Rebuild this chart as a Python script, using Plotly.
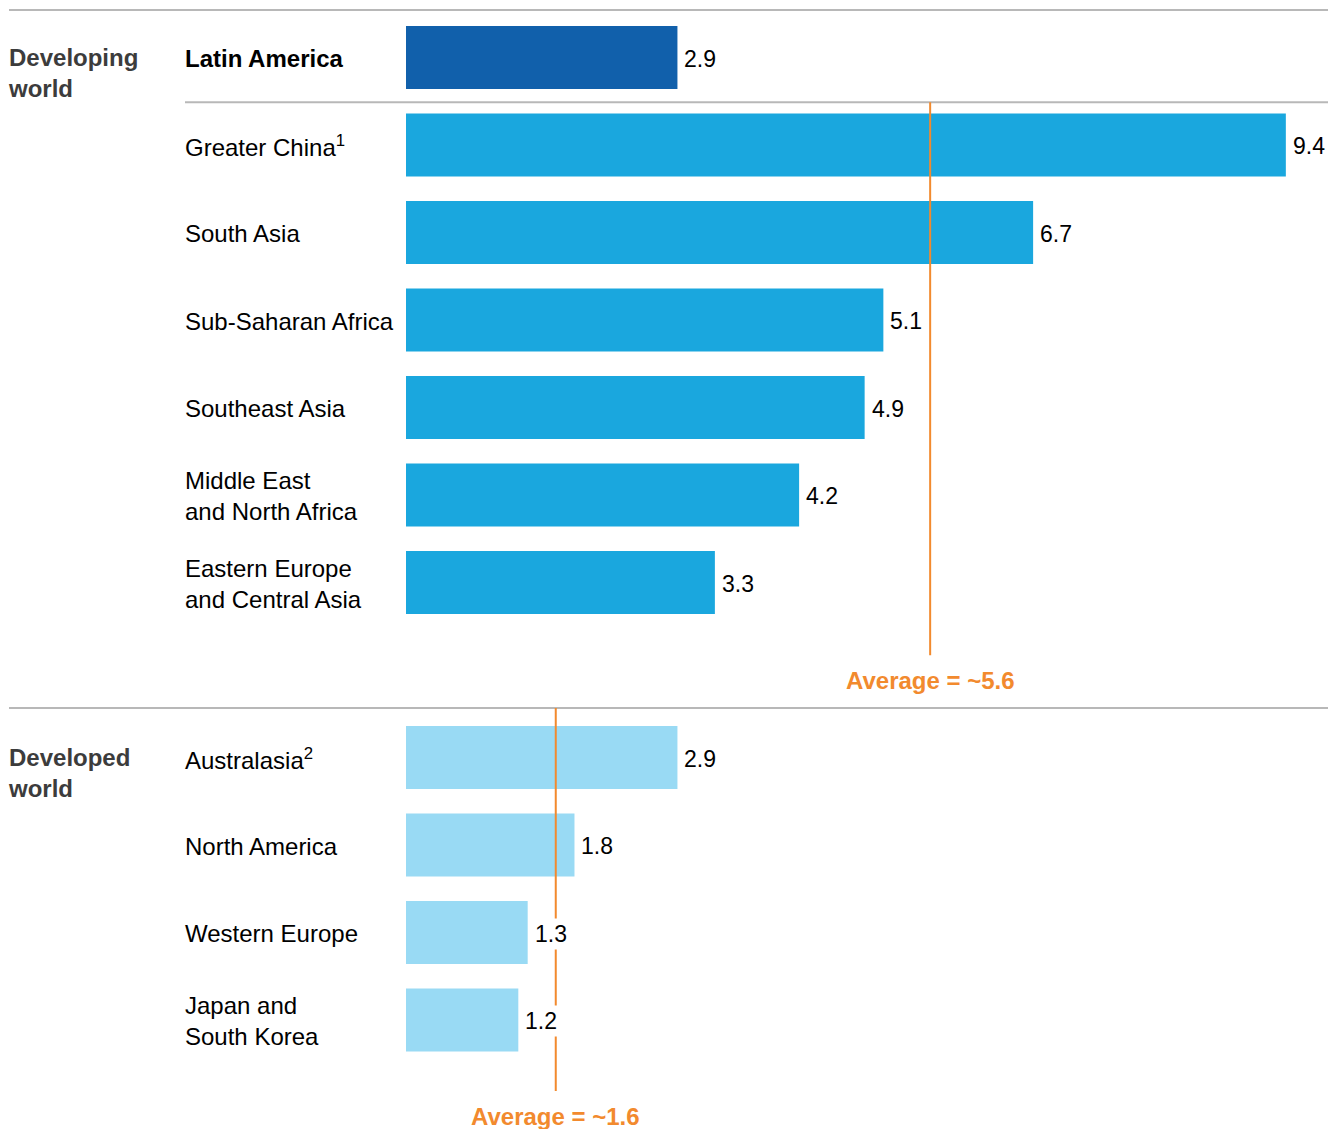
import plotly.graph_objects as go

# ---- data ----
developing_regions = ["<b>Latin America</b>", "Greater China<sup>1</sup>", "South Asia",
                      "Sub-Saharan Africa", "Southeast Asia",
                      "Middle East<br>and North Africa", "Eastern Europe<br>and Central Asia"]
developing_values = [2.9, 9.4, 6.7, 5.1, 4.9, 4.2, 3.3]
developed_regions = ["Australasia<sup>2</sup>", "North America", "Western Europe",
                     "Japan and<br>South Korea"]
developed_values = [2.9, 1.8, 1.3, 1.2]
avg_developing = 5.6
avg_developed = 1.6
avg_developing_label = "Average = ~5.6"
avg_developed_label = "Average = ~1.6"
group_labels = ["Developing<br>world", "Developed<br>world"]

# ---- styling ----
FONT = "Liberation Sans, Arial, sans-serif"
C_HIGHLIGHT = "#1160AB"
C_DEV = "#1AA7DE"
C_DEVD = "#99DAF4"
C_ORANGE = "#F28A2E"
C_GRID = "#B8B8B8"
W, H = 1328, 1129

# positions (one empty slot between groups)
pos_developing = list(range(len(developing_values)))
pos_developed = [len(developing_values) + 1 + i for i in range(len(developed_values))]

colors_developing = [C_HIGHLIGHT] + [C_DEV] * (len(developing_values) - 1)
colors_developed = [C_DEVD] * len(developed_values)

fig = go.Figure()
fig.add_trace(go.Bar(x=developing_values, y=pos_developing, orientation="h",
                     marker=dict(color=colors_developing, line=dict(width=0)),
                     width=0.72, hoverinfo="skip"))
fig.add_trace(go.Bar(x=developed_values, y=pos_developed, orientation="h",
                     marker=dict(color=colors_developed, line=dict(width=0)),
                     width=0.72, hoverinfo="skip"))

annotations = []
# category labels and value labels
for names, vals, pos in [(developing_regions, developing_values, pos_developing),
                         (developed_regions, developed_values, pos_developed)]:
    for n, v, p in zip(names, vals, pos):
        annotations.append(dict(x=185 / W, xref="paper", y=p, yref="y", text=n,
                                showarrow=False, xanchor="left", yanchor="middle", align="left",
                                xshift=-2, yshift=-1,
                                font=dict(family=FONT, size=24, color="#000000")))
        annotations.append(dict(x=v, xref="x", y=p, yref="y", text=f"{v:.1f}",
                                showarrow=False, xanchor="left", yanchor="middle",
                                xshift=4, yshift=-1, bgcolor="#FFFFFF", borderpad=2,
                                font=dict(family=FONT, size=23, color="#000000")))

# group labels
for lab, p in [(group_labels[0], pos_developing[0]), (group_labels[1], pos_developed[0])]:
    annotations.append(dict(x=9 / W, xref="paper", y=p, yref="y", text=f"<b>{lab}</b>",
                            showarrow=False, xanchor="left", yanchor="middle", align="left",
                            xshift=-3, yshift=-15,
                            font=dict(family=FONT, size=24, color="#3C3C3C")))

# average labels
annotations.append(dict(x=avg_developing, xref="x", y=pos_developing[-1] + 1.12, yref="y",
                        text=f"<b>{avg_developing_label}</b>", showarrow=False,
                        xanchor="center", yanchor="middle",
                        font=dict(family=FONT, size=24, color=C_ORANGE)))
annotations.append(dict(x=avg_developed, xref="x", y=pos_developed[-1] + 1.1, yref="y",
                        text=f"<b>{avg_developed_label}</b>", showarrow=False,
                        xanchor="center", yanchor="middle",
                        font=dict(family=FONT, size=24, color=C_ORANGE)))

shapes = [
    # separators
    dict(type="line", xref="paper", yref="y", x0=9 / W, x1=1, y0=-0.543, y1=-0.543,
         line=dict(color=C_GRID, width=2)),
    dict(type="line", xref="paper", yref="y", x0=185 / W, x1=1,
         y0=pos_developing[0] + 0.51, y1=pos_developing[0] + 0.51,
         line=dict(color=C_GRID, width=2)),
    dict(type="line", xref="paper", yref="y", x0=9 / W, x1=1,
         y0=pos_developing[-1] + 1.434, y1=pos_developing[-1] + 1.434,
         line=dict(color=C_GRID, width=2)),
    # averages
    dict(type="line", xref="x", yref="y", x0=avg_developing, x1=avg_developing,
         y0=pos_developing[0] + 0.51, y1=pos_developing[-1] + 0.83,
         line=dict(color=C_ORANGE, width=2), layer="above"),
    dict(type="line", xref="x", yref="y", x0=avg_developed, x1=avg_developed,
         y0=pos_developing[-1] + 1.434, y1=pos_developed[-1] + 0.81,
         line=dict(color=C_ORANGE, width=2), layer="above"),
]

px_per_unit = 93.6
x0_px = 406
y0_px = 57.5
slot_px = 87.5

fig.update_layout(
    width=W, height=H,
    margin=dict(l=0, r=0, t=0, b=0, pad=0),
    paper_bgcolor="#FFFFFF", plot_bgcolor="#FFFFFF",
    showlegend=False,
    barmode="overlay",
    xaxis=dict(range=[-x0_px / px_per_unit, (W - x0_px) / px_per_unit], visible=False,
               fixedrange=True),
    yaxis=dict(range=[(H - y0_px) / slot_px, -y0_px / slot_px], visible=False,
               fixedrange=True),
    annotations=annotations,
    shapes=shapes,
    font=dict(family=FONT),
)

fig.write_html("out.html", config={"displayModeBar": False},
               post_script="document.body.style.margin='0';document.body.style.overflow='hidden';")
